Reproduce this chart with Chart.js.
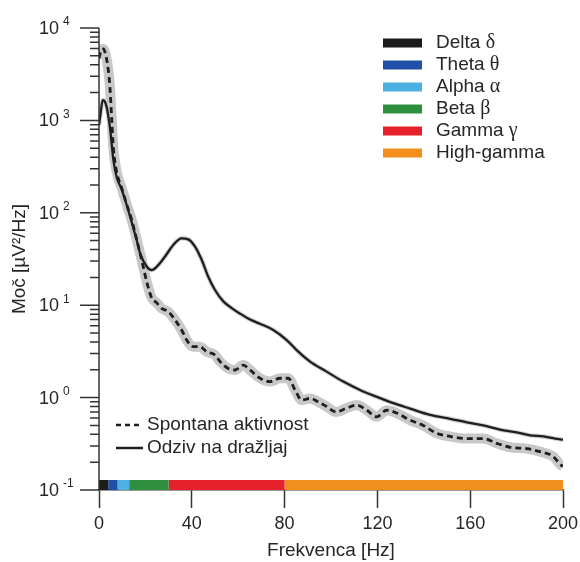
<!DOCTYPE html>
<html>
<head>
<meta charset="utf-8">
<script src="https://cdn.jsdelivr.net/npm/chart.js@4"></script>
<style>
	html, body { margin: 0; background: #fff; }
</style>
</head>
<body>
<canvas id="chart" width="580" height="562"></canvas>
<script>
const FONT = "'Liberation Sans', Arial, sans-serif";
const GREEK_FONT = "'Liberation Serif', 'Times New Roman', serif";
const TEXT = '#262626';
const AXIS = '#333333';

// frequency bands shown as the coloured strip and the top-right legend
const bandNames = ['Delta', 'Theta', 'Alpha', 'Beta', 'Gamma', 'High-gamma'];
const bandSymbols = ['δ', 'θ', 'α', 'β', 'γ', ''];
const bandEdges = [0, 4, 8, 13, 30, 80, 200];
const bandColors = ['#1c1c1c', '#2150a8', '#4db0e3', '#2f8f3f', '#e5222b', '#f28e1c'];
const BAND_Y = 0.1133;

// spontaneous activity (dashed, with grey error band)
const spontFreq = [0, 1, 1.9, 3, 4, 4.7, 5.5, 6.2, 7.6, 9.8, 11.9, 14.1, 16.3, 18.4, 20.6, 22.7, 24.9, 27, 29.9,
	32.8, 35.6, 37.8, 40.6, 43.5, 46.4, 50, 52.2, 55.7, 58.6, 62.2, 65.1, 69.4, 73.7, 78, 81.6, 84.5, 87.4,
	91, 94.5, 98.1, 102.2, 106.8, 111.1, 115.4, 119.7, 124, 128.3, 134.1, 139.8, 145.6, 151.3, 158.5, 165.6,
	171.4, 177.2, 184.4, 190.1, 195.8, 198.7, 200];
const spontPower = [4700, 5780, 5930, 4980, 3510, 2300, 1010, 502, 277, 185, 124, 83.6, 50.8, 30.8, 17.8, 12, 10.6, 9.25, 8.51,
	6.92, 5.4, 4.2, 3.56, 3.56, 3.14, 2.89, 2.45, 2.07, 1.99, 2.25, 1.99, 1.62, 1.49, 1.62, 1.62, 1.21, 0.94,
	0.98, 0.9, 0.8, 0.7, 0.77, 0.83, 0.73, 0.62, 0.73, 0.68, 0.57, 0.5, 0.41, 0.38, 0.36, 0.36,
	0.32, 0.29, 0.28, 0.26, 0.23, 0.19, 0.18];

// response to stimulus (solid)
const respFreq = [0, 0.6, 1.6, 2.4, 3.3, 4.7, 6.2, 7.6, 9.8, 12, 14.1, 16.3, 17.7, 20.6, 22.7, 24.9, 28.4, 32, 35.6,
	38.5, 41.4, 44.3, 47.1, 50, 53.6, 57.2, 60.8, 65.1, 69.4, 75.1, 80.9, 85.9, 91, 98.1, 105.3, 112.5, 119.7,
	126.9, 134.1, 142.7, 151.3, 158.5, 165.6, 172.8, 180, 185.8, 191.5, 196.6, 200];
const respPower = [890, 1150, 1660, 1620, 1400, 850, 372, 244, 178, 120, 79, 50, 36.7, 26.1, 24, 26.1, 33.5, 44.9, 53,
	51.6, 43, 30.8, 20.3, 14.6, 11, 9.3, 8.1, 7.0, 6.3, 5.4, 4.2, 3.14, 2.45, 1.91, 1.49, 1.21, 1.02,
	0.87, 0.76, 0.65, 0.59, 0.54, 0.5, 0.45, 0.42, 0.39, 0.38, 0.36, 0.35];

const seriesNames = ['Spontana aktivnost', 'Odziv na dražljaj'];
const xTicks = [0, 40, 80, 120, 160, 200];
const yDecades = [-1, 0, 1, 2, 3, 4];

const toPoints = (xs, ys) => xs.map((x, i) => ({ x, y: ys[i] }));
const spontPts = toPoints(spontFreq, spontPower);
const respPts = toPoints(respFreq, respPower);

const bandSets = bandNames.map((name, i) => ({
	label: name,
	data: [{ x: bandEdges[i], y: BAND_Y }, { x: bandEdges[i + 1], y: BAND_Y }],
	borderColor: bandColors[i],
	borderWidth: 10,
	borderCapStyle: 'butt',
	pointRadius: 0,
	order: 1
}));

// draws log axis with long/short ticks and 10^n labels
const yAxisPlugin = {
	id: 'yAxis',
	afterDraw(chart) {
		const { ctx, scales: { y } } = chart;
		const x0 = y.right;
		ctx.save();
		ctx.strokeStyle = AXIS;
		ctx.lineWidth = 1.5;
		ctx.beginPath();
		ctx.moveTo(x0, y.top);
		ctx.lineTo(x0, y.bottom);
		ctx.stroke();
		yDecades.forEach(e => {
			const base = Math.pow(10, e);
			const py = y.getPixelForValue(base);
			ctx.beginPath();
			ctx.moveTo(x0 - 19, py);
			ctx.lineTo(x0, py);
			if (e < yDecades[yDecades.length - 1]) {
				for (let m = 2; m <= 9; m++) {
					const pm = y.getPixelForValue(base * m);
					ctx.moveTo(x0 - 9, pm);
					ctx.lineTo(x0, pm);
				}
			}
			ctx.stroke();
			ctx.fillStyle = TEXT;
			ctx.font = `18px ${FONT}`;
			ctx.textAlign = 'right';
			ctx.textBaseline = 'middle';
			ctx.fillText('10', x0 - 40, py + 1);
			ctx.font = `12px ${FONT}`;
			ctx.textAlign = 'left';
			ctx.fillText(String(e), x0 - 36, py - 6);
		});
		ctx.restore();
	}
};

// legends: frequency bands (top right) and series (bottom left)
const legendPlugin = {
	id: 'legends',
	afterDraw(chart) {
		const { ctx, chartArea } = chart;
		ctx.save();
		ctx.textBaseline = 'middle';
		ctx.textAlign = 'left';
		const bx = chartArea.right - 180, by = chartArea.top + 15;
		bandNames.forEach((name, i) => {
			const cy = by + i * 22;
			ctx.fillStyle = bandColors[i];
			ctx.fillRect(bx, cy - 4.5, 39, 9);
			ctx.fillStyle = TEXT;
			ctx.font = `19px ${FONT}`;
			const label = name + (bandSymbols[i] ? ' ' : '');
			ctx.fillText(label, bx + 53, cy);
			if (bandSymbols[i]) {
				const w = ctx.measureText(label).width;
				ctx.font = `20px ${GREEK_FONT}`;
				ctx.fillText(bandSymbols[i], bx + 53 + w, cy);
			}
		});
		const lx = chartArea.left + 17, ly = chartArea.bottom - 65;
		seriesNames.forEach((name, i) => {
			const cy = ly + i * 23;
			ctx.strokeStyle = '#1e1e1e';
			ctx.lineWidth = 2.5;
			ctx.setLineDash(i === 0 ? [5, 4] : []);
			ctx.beginPath();
			ctx.moveTo(lx, cy);
			ctx.lineTo(lx + 27, cy);
			ctx.stroke();
			ctx.setLineDash([]);
			ctx.fillStyle = TEXT;
			ctx.font = `19px ${FONT}`;
			ctx.fillText(name, lx + 31, cy);
		});
		ctx.restore();
	}
};

new Chart(document.getElementById('chart'), {
	type: 'line',
	data: {
		datasets: [
			{
				label: seriesNames[0],
				data: spontPts,
				borderColor: '#1e1e1e',
				borderWidth: 2.8,
				borderDash: [6, 4],
				pointRadius: 0,
				cubicInterpolationMode: 'monotone',
				order: 2
			},
			{
				label: seriesNames[1],
				data: respPts,
				borderColor: '#1e1e1e',
				borderWidth: 2.3,
				pointRadius: 0,
				cubicInterpolationMode: 'monotone',
				order: 3
			},
			{
				label: 'spont-sem',
				data: spontPts,
				borderColor: '#c8c8c8',
				borderWidth: 10,
				pointRadius: 0,
				cubicInterpolationMode: 'monotone',
				order: 8
			},
			{
				label: 'resp-sem',
				data: respPts,
				borderColor: '#d2d2d2',
				borderWidth: 4.5,
				pointRadius: 0,
				cubicInterpolationMode: 'monotone',
				order: 9
			},
			...bandSets
		]
	},
	options: {
		responsive: false,
		animation: false,
		parsing: false,
		layout: { padding: { top: 28, right: 17, left: 0, bottom: 0 } },
		plugins: {
			legend: { display: false },
			tooltip: { enabled: false }
		},
		scales: {
			x: {
				type: 'linear',
				min: 0,
				max: 200,
				afterBuildTicks: s => { s.ticks = xTicks.map(v => ({ value: v })); },
				afterFit: s => { s.height = 72; s.paddingLeft = 0; s.paddingRight = 0; },
				ticks: { color: TEXT, font: { family: FONT, size: 18 }, padding: 5, maxRotation: 0 },
				grid: { drawOnChartArea: false, tickLength: 18, tickColor: AXIS, tickWidth: 1.5 },
				border: { display: true, color: AXIS, width: 1.5 },
				title: { display: true, text: 'Frekvenca [Hz]', color: TEXT, font: { family: FONT, size: 19 }, padding: { top: 0, bottom: 0 } }
			},
			y: {
				type: 'logarithmic',
				min: 0.1,
				max: 10000,
				afterFit: s => { s.width = 99; },
				ticks: { display: false },
				grid: { display: false },
				border: { display: false },
				title: { display: true, text: 'Moč [µV²/Hz]', color: TEXT, font: { family: FONT, size: 19 }, padding: { top: 8, bottom: 0 } }
			}
		}
	},
	plugins: [yAxisPlugin, legendPlugin]
});
</script>
</body>
</html>
